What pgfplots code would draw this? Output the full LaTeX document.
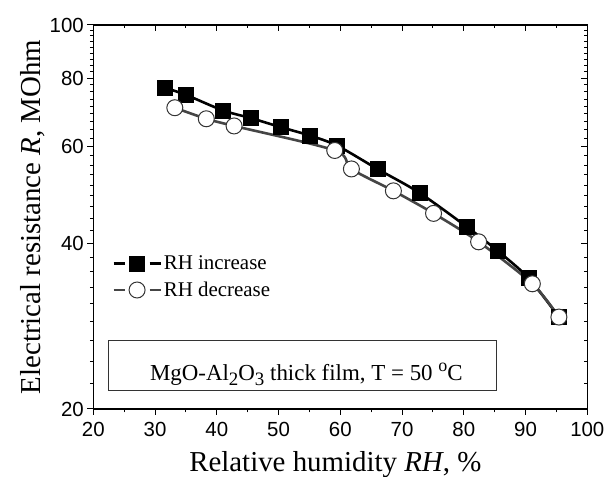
\documentclass[border=0pt]{standalone}
\usepackage{fontspec}
\setmainfont{Liberation Serif}
\setsansfont{Liberation Sans}
\usepackage{pgfplots}
\pgfplotsset{compat=1.18}
\definecolor{grayline}{HTML}{454545}
\definecolor{edgegray}{HTML}{333333}
\begin{document}
\begin{tikzpicture}
\useasboundingbox (-93.3bp,-68bp) rectangle (513.7bp,409bp);
\begin{axis}[width=494bp, height=384bp, scale only axis,
    xmin=20, xmax=100, ymin=20, ymax=100, ymode=log,
    xtick={20,30,...,100}, minor xtick={25,35,...,95},
    ytick={20,40,60,80,100}, yticklabels={20,40,60,80,100},
    minor ytick={22.222,24.444,26.667,28.889,31.111,33.333,35.556,37.778,
                 42.222,44.444,46.667,48.889,51.111,53.333,55.556,57.778,
                 62.222,64.444,66.667,68.889,71.111,73.333,75.556,77.778,
                 82.222,84.444,86.667,88.889,91.111,93.333,95.556,97.778},
    axis line style={line width=1.2bp},
    major tick length=6bp, minor tick length=3.5bp,
    tick style={black, line width=1bp},
    /pgf/number format/assume math mode=true,
    tick label style={font=\fontsize{20.5}{24}\sffamily},
    xticklabel style={yshift=-4bp},
  tick align=outside, xtick pos=left, ytick pos=left,
  xlabel={Relative humidity \textit{RH}, \%},
  ylabel={Electrical resistance \textit{R}, MOhm},
  label style={font=\fontsize{29}{33}\selectfont},
  xlabel style={yshift=-8bp, xshift=-5bp},
  ylabel style={yshift=-2bp},
  legend style={draw=none, fill=none, at={(0.038,0.405)}, anchor=north west,
    font=\fontsize{21}{25}\selectfont, row sep=7bp, inner sep=0pt},
  legend cell align=left,
  legend image code/.code={
    \draw[#1, mark=none] (0bp,0bp) -- (11bp,0bp);
    \draw[#1, mark=none] (36bp,0bp) -- (47bp,0bp);
    \draw[#1] plot[only marks] coordinates {(23.5bp,0bp)};},
  clip=false]
\addplot[black, line width=2.6bp, smooth, mark=square*, mark size=7.5bp,
  mark options={solid, fill=black, draw=black, line width=0.5bp}]
  coordinates {(31.5,76.9)(34.9,74.7)(41.0,69.9)(45.5,67.7)(50.3,65.2)(55.1,62.9)(59.5,60.3)(66.0,54.7)(72.8,49.5)(80.5,42.9)(85.5,38.8)(90.5,34.6)(95.4,29.4)};
\addlegendentry{RH increase}
\addplot[grayline, line width=2.6bp, smooth, mark=*, mark size=8bp,
  mark options={solid, fill=white, draw=edgegray, line width=1bp}]
  coordinates {(33.2,70.7)(38.3,67.5)(42.8,65.5)(59.1,59.1)(61.8,54.7)(68.6,49.9)(75.1,45.4)(82.4,40.3)(91.1,33.8)(95.4,29.4)};
\addlegendentry{RH decrease}
\draw[line width=1bp, edgegray] (axis cs:22.5,21.6) rectangle (axis cs:85.3,26.7);
\node[font=\fontsize{23}{28}\selectfont, anchor=base] at (axis cs:54.5,22.55) {MgO-Al\raisebox{-5bp}{\fontsize{19}{19}\selectfont 2}O\raisebox{-5bp}{\fontsize{19}{19}\selectfont 3} thick film, T = 50 \raisebox{9bp}{\fontsize{18}{18}\selectfont o}C};
\end{axis}
\begin{axis}[width=494bp, height=384bp, scale only axis,
    xmin=20, xmax=100, ymin=20, ymax=100, ymode=log,
    xtick={20,30,...,100}, minor xtick={25,35,...,95},
    ytick={20,40,60,80,100},
    minor ytick={22.222,24.444,26.667,28.889,31.111,33.333,35.556,37.778,
                 42.222,44.444,46.667,48.889,51.111,53.333,55.556,57.778,
                 62.222,64.444,66.667,68.889,71.111,73.333,75.556,77.778,
                 82.222,84.444,86.667,88.889,91.111,93.333,95.556,97.778},
    axis line style={line width=1.2bp},
    major tick length=6bp, minor tick length=3.5bp,
    tick style={black, line width=1bp},
    tick align=inside, xtick pos=right, ytick pos=right,
    xticklabels={}, yticklabels={}]
\end{axis}
\end{tikzpicture}
\end{document}
